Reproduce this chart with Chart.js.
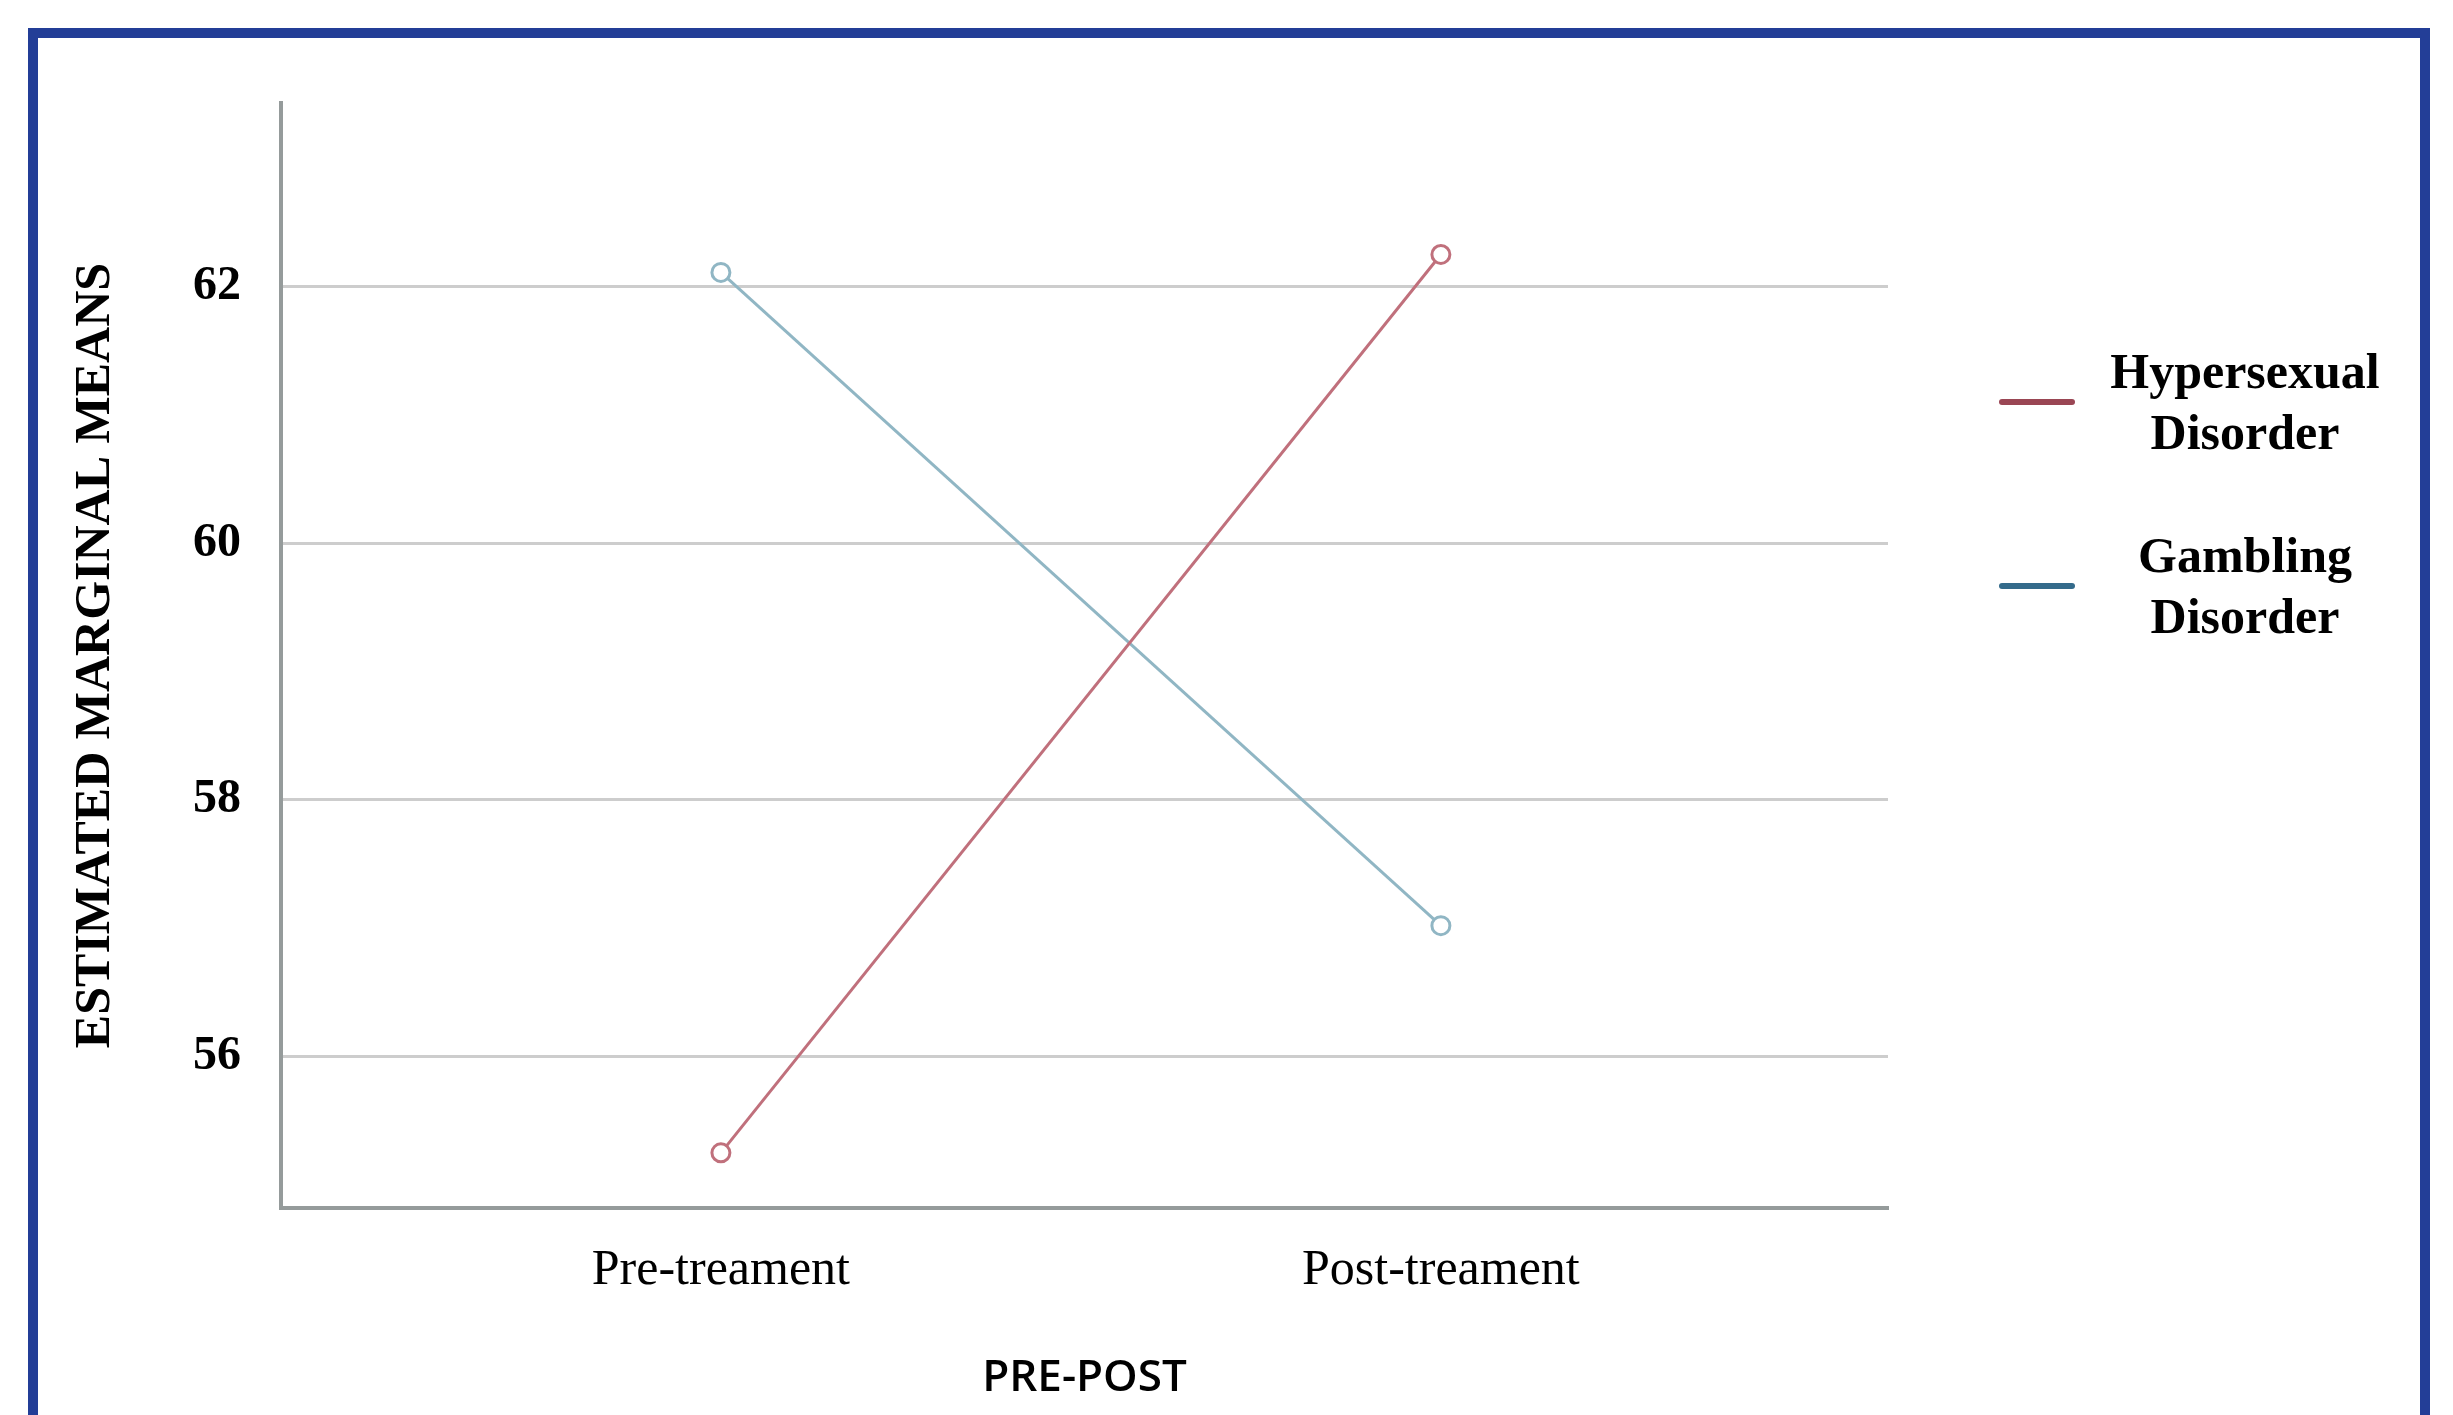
<!DOCTYPE html>
<html>
<head>
<meta charset="utf-8">
<title>Estimated marginal means</title>
<script src="https://cdn.jsdelivr.net/npm/chart.js@4"></script>
<style>
  html, body { margin: 0; padding: 0; background: #ffffff; overflow: hidden; }
  #frame {
    position: absolute; left: 28px; top: 28px;
    width: 2402px; height: 1500px;
    box-sizing: border-box;
    border: 10px solid #233e97;
    pointer-events: none;
  }
  #myChart { position: absolute; left: 0; top: 0; }
</style>
</head>
<body>
<canvas id="myChart" width="2453" height="1415"></canvas>
<div id="frame"></div>
<script>
// categories on the x axis (placed at x = 1, 2)
const categories = ['Pre-treament', 'Post-treament'];
const xPositions = [1, 2];

// estimated marginal means
const hypersexual = [55.25, 62.25];
const gambling = [62.11, 57.02];

const seriesNames = ['Hypersexual Disorder', 'Gambling Disorder'];
const yTicks = [56, 58, 60, 62];

const lineColors = ['#c0707c', '#90b6c4'];
const swatchColors = ['#9a4654', '#346b8b'];

const SERIF = '"Liberation Serif", "Times New Roman", serif';

function toPoints(values) {
  return xPositions.map((x, i) => ({ x: x, y: values[i] }));
}

// legend drawn to the right of the plot, two centred lines per entry
const sideLegend = {
  id: 'sideLegend',
  afterDraw(chart) {
    const { ctx, chartArea } = chart;
    ctx.save();
    ctx.font = 'bold 50px ' + SERIF;
    ctx.fillStyle = '#000000';
    ctx.textAlign = 'center';
    ctx.textBaseline = 'alphabetic';
    chart.data.datasets.forEach((ds, i) => {
      const base = chartArea.top + 285 + i * 184;
      ds.label.split(' ').forEach((line, j) => {
        ctx.fillText(line, chartArea.right + 357, base + j * 61);
      });
      ctx.strokeStyle = swatchColors[i];
      ctx.lineWidth = 6;
      ctx.lineCap = 'round';
      ctx.beginPath();
      ctx.moveTo(chartArea.right + 114, base + 14);
      ctx.lineTo(chartArea.right + 184, base + 14);
      ctx.stroke();
    });
    ctx.restore();
  }
};

const ctx = document.getElementById('myChart');

new Chart(ctx, {
  type: 'line',
  data: {
    datasets: [
      {
        label: seriesNames[0],
        data: toPoints(hypersexual),
        borderColor: lineColors[0],
        borderWidth: 3,
        pointRadius: 9,
        pointBorderWidth: 3,
        pointBackgroundColor: '#ffffff',
        pointBorderColor: lineColors[0],
      },
      {
        label: seriesNames[1],
        data: toPoints(gambling),
        borderColor: lineColors[1],
        borderWidth: 3,
        pointRadius: 9,
        pointBorderWidth: 3,
        pointBackgroundColor: '#ffffff',
        pointBorderColor: lineColors[1],
      }
    ]
  },
  options: {
    responsive: false,
    animation: false,
    devicePixelRatio: 1,
    layout: {
      padding: { left: 0, top: 103, right: 565, bottom: 0 }
    },
    plugins: {
      legend: { display: false },
      tooltip: { enabled: false },
    },
    scales: {
      x: {
        type: 'linear',
        min: 0.389,
        max: 2.621,
        afterBuildTicks: (scale) => {
          scale.ticks = xPositions.map((v) => ({ value: v }));
        },
        afterFit: (scale) => { scale.height = 207; },
        grid: { display: false, drawTicks: false },
        border: { display: true, color: '#959b9b', width: 4 },
        ticks: {
          padding: 33,
          color: '#000000',
          font: { family: SERIF, size: 50 },
          callback: (value) => categories[xPositions.indexOf(value)] || '',
        },
        title: {
          display: true,
          text: 'PRE-POST',
          color: '#000000',
          font: { family: '"Open Sans", sans-serif', size: 44, weight: '600' },
          padding: { top: 0, bottom: 10 },
        }
      },
      y: {
        min: 54.82,
        max: 63.43,
        afterBuildTicks: (scale) => {
          scale.ticks = yTicks.map((v) => ({ value: v }));
        },
        afterFit: (scale) => { scale.width = 281; },
        grid: { color: '#cdcdcd', lineWidth: 3, drawTicks: false },
        border: { display: true, color: '#959b9b', width: 4 },
        ticks: {
          padding: 40,
          color: '#000000',
          font: { family: SERIF, size: 48, weight: 'bold' },
        },
        title: {
          display: true,
          text: 'ESTIMATED MARGINAL MEANS',
          color: '#000000',
          font: { family: SERIF, size: 50, weight: 'bold' },
          padding: { top: 66, bottom: 0 },
        }
      }
    }
  },
  plugins: [sideLegend]
});
</script>
</body>
</html>
